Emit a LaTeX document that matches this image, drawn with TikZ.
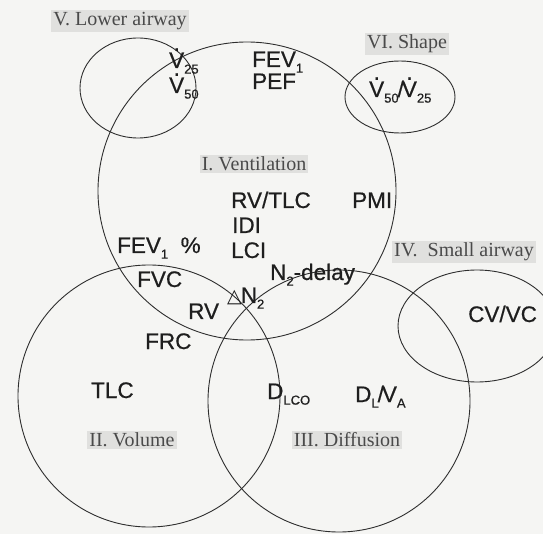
\documentclass[tikz,border=0pt]{standalone}
\usepackage{fontspec}
\setmainfont{Liberation Serif}
\newfontfamily\arialf[FakeBold=0.6]{Liberation Sans}
\newfontfamily\dejavu{DejaVu Sans}
\newcommand\lsub[1]{\raisebox{-0.25em}{\fontsize{13}{13}\selectfont #1}}
\newcommand\vdt{\leavevmode\rlap{\hbox to \fontcharwd\font`V{\hss\raisebox{0.76em}{.}\hss}}V}
\definecolor{bgc}{HTML}{F5F5F3}
\definecolor{linec}{HTML}{2E2E2E}
\definecolor{boxc}{HTML}{E0E0DE}
\definecolor{serc}{HTML}{4A4A4A}
\definecolor{sanc}{HTML}{1E1E1E}
\tikzset{
  ring/.style={draw=linec, line width=0.9pt},
  area/.style={fill=boxc, text=serc, inner sep=2pt, font=\fontsize{20}{24}\selectfont},
  item/.style={text=sanc, inner sep=0pt, font=\arialf\fontsize{22.5}{26}\selectfont},
}
\begin{document}
\begin{tikzpicture}[x=1pt,y=-1pt]
\fill[bgc] (0,0) rectangle (543,534);
\useasboundingbox (0,0) rectangle (543,534);
\begin{scope}
\clip (0,0) rectangle (543,534);
\draw[ring] (247,191) circle[radius=149];
\draw[ring] (149,396) circle[radius=131];
\draw[ring] (339,401) circle[radius=131];
\draw[ring] (477,326) ellipse[x radius=79, y radius=56];
\draw[ring] (138,88) ellipse[x radius=58, y radius=50];
\draw[ring] (400,97) ellipse[x radius=55, y radius=36];
\end{scope}
% area labels
\node[area] (t5) at (120,21) {V. Lower airway};
\node[area] (t6) at (407,44) {VI. Shape};
\node[area] (t1) at (254,164) {I. Ventilation};
\node[area, anchor=west] (t4) at (392,252) {IV.\ \ Small airway};
\node[area] (t2) at (132,440) {II. Volume};
\node[area] (t3) at (347,440) {III. Diffusion};
% items
\node[item, anchor=base west] (v25) at (169,68) {\vdt\lsub{25}};
\node[item, anchor=base west] (v50) at (169,93) {\vdt\lsub{50}};
\node[item, anchor=base west] (fev) at (252,67) {FEV\lsub{1}};
\node[item, anchor=base west] (pef) at (252,89) {PEF};
\node[item, anchor=base west] (ratio) at (369,97) {\vdt\lsub{50}\kern-1pt/\kern-2pt\vdt\lsub{25}};
\node[item, anchor=base west] (rvtlc) at (231,208) {RV/TLC};
\node[item, anchor=base west] (pmi) at (352,208) {PMI};
\node[item, anchor=base west] (idi) at (232,233) {IDI};
\node[item, anchor=base west] (lci) at (231,258) {LCI};
\node[item, anchor=base west] (fevp) at (117,253) {FEV\lsub{1}\ \ \%};
\node[item, anchor=base west] (fvc) at (137,287) {FVC};
\node[item, anchor=base west] (n2d) at (270,280) {N\lsub{2}-delay};
\node[item, anchor=base west] (dn2) at (227,303) {{\dejavu\fontsize{19}{22}\selectfont △}\kern-1pt N\lsub{2}};
\node[item, anchor=base west] (rv) at (188,319) {RV};
\node[item, anchor=base west] (frc) at (145,349) {FRC};
\node[item, anchor=base west] (tlc) at (91,398) {TLC};
\node[item, anchor=base west] (dlco) at (267,399) {D\lsub{LCO}};
\node[item, anchor=base west] (dlva) at (355,402) {D\lsub{L}\kern-1pt/\kern-2pt V\lsub{A}};
\node[item, anchor=base west] (cvvc) at (468,322) {CV/VC};
\end{tikzpicture}
\end{document}
